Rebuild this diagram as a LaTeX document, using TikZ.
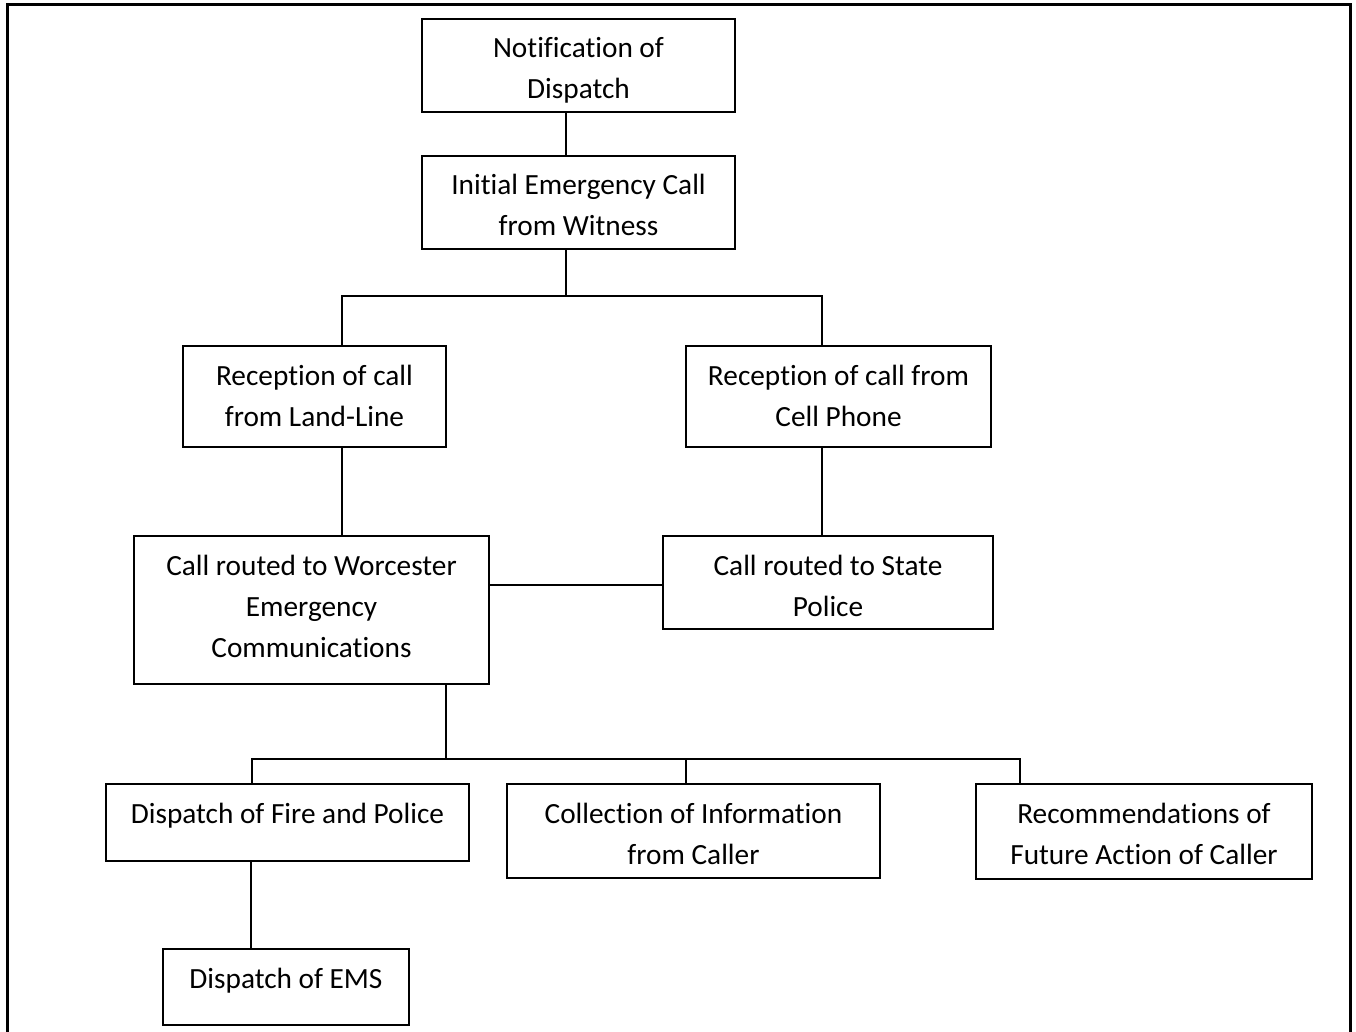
\documentclass[tikz,border=0pt]{standalone}
\usepackage{fontspec}
\setmainfont{Carlito}[Ligatures=NoCommon]
% text block of a box: width, height, lines (top aligned)
\newcommand\boxtext[3]{\parbox[t][#2pt][t]{#1pt}{\centering\fontsize{29.3}{41}\selectfont\rule{0pt}{39pt}#3}}
\begin{document}
\begin{tikzpicture}[x=1pt,y=-1pt,
  box/.style={draw, line width=2pt, inner sep=0pt, anchor=north west},
  link/.style={line width=2pt},
  frame/.style={line width=3pt}]
\useasboundingbox (0,0) rectangle (1356,1032);
% open frame around the chart
\draw[frame] (7,1032) -- (7,5) -- (1350,5) -- (1350,1032);

\node[box] (notify)  at (421,18)  {\boxtext{313}{93}{Notification of\\Dispatch}};
\node[box] (initial) at (421,155) {\boxtext{313}{93}{Initial Emergency Call\\from Witness}};
\node[box] (land)    at (182,345) {\boxtext{263}{101}{Reception of call\\from Land-Line}};
\node[box] (cell)    at (685,345) {\boxtext{305}{101}{Reception of call from\\Cell Phone}};
\node[box] (worc)    at (133,535) {\boxtext{355}{148}{Call routed to Worcester\\Emergency\\Communications}};
\node[box] (state)   at (662,535) {\boxtext{330}{93}{Call routed to State\\Police}};
\node[box] (fire)    at (105,783) {\boxtext{363}{77}{Dispatch of Fire and Police}};
\node[box] (collect) at (506,783) {\boxtext{373}{94}{Collection of Information\\from Caller}};
\node[box] (recomm)  at (975,783) {\boxtext{336}{95}{Recommendations of\\Future Action of Caller}};
\node[box] (ems)     at (162,948) {\boxtext{246}{76}{Dispatch of EMS}};

% junction points of the tree branches
\coordinate (split1) at (566,296);
\coordinate (split2) at (446,759);

\draw[link] (566,0 |- notify.south) -- (566,0 |- initial.north);
\draw[link] (566,0 |- initial.south) -- (split1);
\draw[link] (342,0 |- land.north) -- (342,0 |- split1) -- (822,0 |- split1) -- (822,0 |- cell.north);
\draw[link] (342,0 |- land.south) -- (342,0 |- worc.north);
\draw[link] (822,0 |- cell.south) -- (822,0 |- state.north);
\draw[link] (worc.east |- 0,585) -- (state.west |- 0,585);
\draw[link] (446,0 |- worc.south) -- (split2);
\draw[link] (252,0 |- fire.north) -- (252,0 |- split2) -- (1020,0 |- split2) -- (1020,0 |- recomm.north);
\draw[link] (686,0 |- split2) -- (686,0 |- collect.north);
\draw[link] (251,0 |- fire.south) -- (251,0 |- ems.north);
\end{tikzpicture}
\end{document}
